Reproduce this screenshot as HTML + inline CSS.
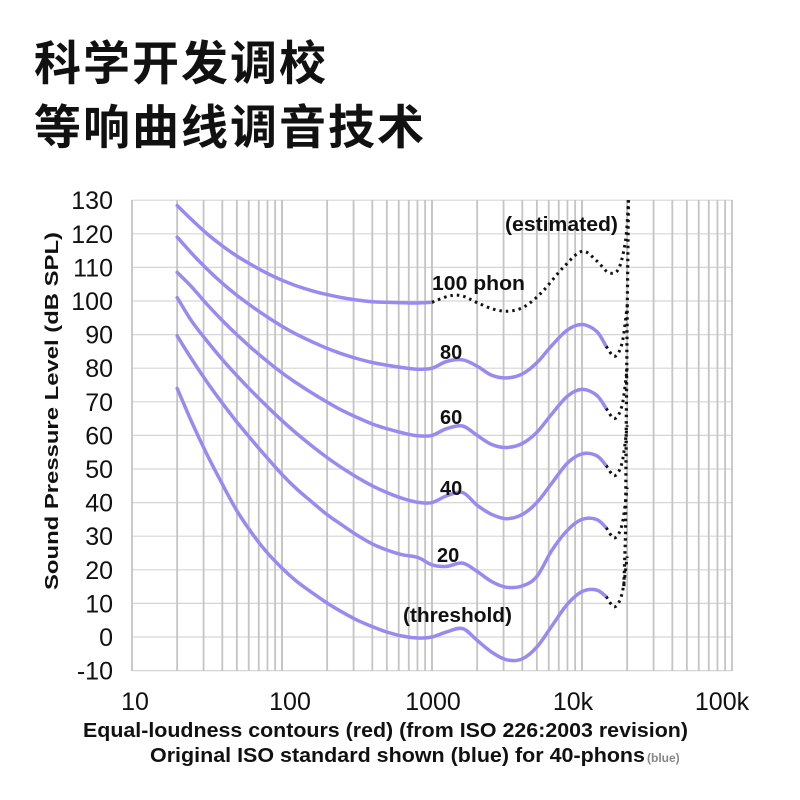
<!DOCTYPE html>
<html><head><meta charset="utf-8"><style>
html,body{margin:0;padding:0;background:#fff;}
body{width:800px;height:800px;position:relative;overflow:hidden;font-family:"Liberation Sans","Noto Sans CJK SC",sans-serif;}
.t{position:absolute;left:34px;font-size:47px;font-weight:bold;color:#111;letter-spacing:2px;line-height:1;font-family:"Liberation Sans","Noto Sans CJK SC",sans-serif;}
</style></head><body>
<div class="t" style="top:40px">科学开发调校</div>
<div class="t" style="top:104px">等响曲线调音技术</div>
<svg id="s" width="800" height="800" style="position:absolute;left:0;top:0" xmlns="http://www.w3.org/2000/svg">
<g id="grid"></g>
<g id="curves" fill="none" stroke="#9a8af0" stroke-width="3.5" stroke-linecap="round"></g>
<g id="dots" fill="none" stroke="#111" stroke-width="3" stroke-dasharray="2.5 4"></g>
<g font-family="Liberation Sans, sans-serif" fill="#111">
<g font-size="25" text-anchor="end" id="ylab"></g>
<g font-size="25" text-anchor="middle">
<text x="135" y="710">10</text><text x="290" y="710">100</text><text x="433" y="710">1000</text><text x="573" y="710">10k</text><text x="722" y="710">100k</text>
</g>
<text transform="translate(58,411) rotate(-90)" font-size="18" font-weight="bold" text-anchor="middle" textLength="358" lengthAdjust="spacingAndGlyphs">Sound Pressure Level (dB SPL)</text>
<g font-size="20" font-weight="bold">
<text x="83" y="737" textLength="605" lengthAdjust="spacingAndGlyphs">Equal-loudness contours (red) (from ISO 226:2003 revision)</text>
<text x="150" y="762" textLength="495" lengthAdjust="spacingAndGlyphs">Original ISO standard shown (blue) for 40-phons</text>
<text x="647" y="762" font-size="12" fill="#888">(blue)</text>
</g>
<g font-size="20" font-weight="bold">
<text x="432" y="290" textLength="93" lengthAdjust="spacingAndGlyphs">100 phon</text>
<text x="440" y="359">80</text>
<text x="440" y="424">60</text>
<text x="440" y="495">40</text>
<text x="437" y="562">20</text>
<text x="403" y="622" textLength="109" lengthAdjust="spacingAndGlyphs">(threshold)</text>
<text x="505" y="231" textLength="113" lengthAdjust="spacingAndGlyphs">(estimated)</text>
</g>
</g>
</svg>
<script>
var NS="http://www.w3.org/2000/svg";
function X(f){return 132+150*Math.log10(f/10);}
function Y(d){return 637-d*3.36;}
function el(p,t,a){var e=document.createElementNS(NS,t);for(var k in a)e.setAttribute(k,a[k]);p.appendChild(e);return e;}
var g=document.getElementById('grid');
for(var d=-10;d<=130;d+=10){el(g,'line',{x1:132,x2:732,y1:Y(d),y2:Y(d),stroke:'#d6d6d6','stroke-width':1.2});
 var t=el(document.getElementById('ylab'),'text',{x:113,y:Y(d)+9});t.textContent=d;}
for(var e=10;e<=10000;e*=10)for(var m=1;m<=10;m++){var x=X(e*m);el(g,'line',{x1:x,x2:x,y1:200,y2:671,stroke:'#c4c4c4','stroke-width':1.8});}
var F=[20,25,31.5,40,50,63,80,100,125,160,200,250,315,400,500,630,800,1000,1250,1600,2000,2500,3150,4000,5000,6300,8000,10000,12500,14500];
var C=[
[74,64,54.5,45.5,37.6,30.9,25,20.5,16.6,13.1,10.1,7.5,5.1,3.1,1.5,0.3,-0.3,0,1.5,2.5,-1,-4.5,-6.8,-6.5,-3,3.3,9.8,13.5,14,12],
[89.6,82.7,76,69.6,64,58.6,53.2,48.4,44.1,40,36.4,33.4,30.4,27.7,25.9,24.5,23.7,21.5,21,22,19.5,16.5,14.8,15.2,18,25.8,31.8,35,35,32.5],
[101,94,88.2,82.6,77.8,73.1,68.5,64.4,60.6,56.7,53.4,50.4,47.6,45,43,41.3,40.1,40,42,43,39.2,36.5,35.2,36.5,40,45.8,51.8,54.5,54,51],
[108.5,104.2,99.1,94.2,90,85.9,82,78.6,75.6,72.5,69.9,67.5,65.4,63.4,62,60.8,59.9,60,62,62.8,60,57.3,56.4,57.6,60.9,66.4,71.7,73.7,72,68],
[119,114.2,109.6,105.3,101.7,98.4,95.2,92.5,90.1,87.8,85.9,84.3,82.9,81.7,80.9,80.2,79.7,80,82,82.5,80.6,77.9,77.1,78.3,81.6,86.8,91.4,93,91,86.5],
[128.4,124.2,120.1,116.4,113.4,110.7,108.2,106.2,104.5,103,101.9,101,100.3,99.8,99.6,99.5,99.4,99.6]
];
function path(pts){var s="M"+pts[0][0].toFixed(1)+","+pts[0][1].toFixed(1);
 for(var i=0;i<pts.length-1;i++){var p0=pts[i-1]||pts[i],p1=pts[i],p2=pts[i+1],p3=pts[i+2]||p2;
 s+=" C"+(p1[0]+(p2[0]-p0[0])/6).toFixed(1)+","+(p1[1]+(p2[1]-p0[1])/6).toFixed(1)+" "+(p2[0]-(p3[0]-p1[0])/6).toFixed(1)+","+(p2[1]-(p3[1]-p1[1])/6).toFixed(1)+" "+p2[0].toFixed(1)+","+p2[1].toFixed(1);}return s;}
var cg=document.getElementById('curves'),dg=document.getElementById('dots');
C.forEach(function(c){var pts=c.map(function(v,i){return [X(F[i]),Y(v)];});el(cg,'path',{d:path(pts)});
 if(c.length==F.length){var l=c[c.length-1];
  el(dg,'path',{d:path([[X(14500),Y(l)],[X(16500),Y(l-3)],[X(18500),Y(l+1)],[X(20000),Y(l+12)]])});}});
var dp=[[1000,99.6],[1300,101.5],[1600,101.5],[2000,99.5],[2600,97.5],[3300,97],[4200,98.5],[5500,103],[7500,110],[10000,114.8],[12500,112],[15000,108.5],[17500,109.5],[19500,118],[20400,130]];
el(dg,'path',{d:path(dp.map(function(p){return [X(p[0]),Y(p[1])];}))});
el(dg,'path',{d:"M"+X(20400)+","+Y(130)+" L"+X(20000)+","+Y(95)+" L"+X(19700)+","+Y(60)+" L"+X(19500)+","+Y(30)+" L"+X(19000)+","+Y(15),'stroke-width':3.2});
</script>
</body></html>
